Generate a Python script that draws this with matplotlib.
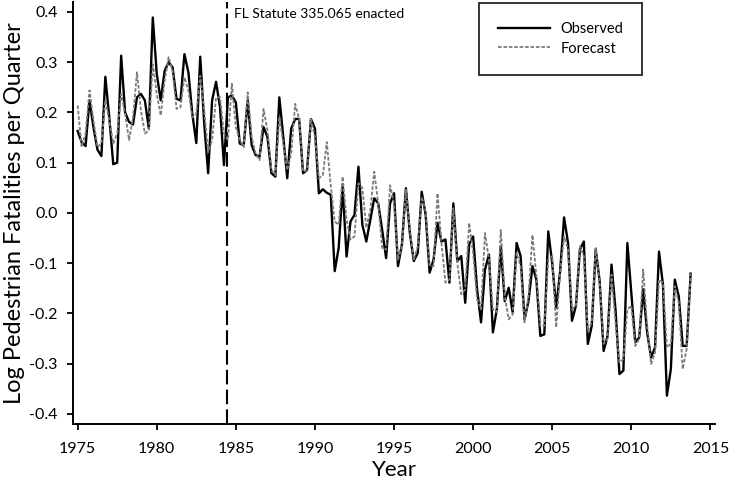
import matplotlib
matplotlib.use('Agg')
import matplotlib.pyplot as plt
import numpy as np

plt.rcParams['font.family'] = ['Lato', 'DejaVu Sans']
plt.rcParams['axes.unicode_minus'] = False

# quarterly series, 1975 Q1 .. 2013 Q4
start_year = 1975
observed = [
    0.163, 0.141, 0.133, 0.224, 0.170, 0.126, 0.113, 0.271,
    0.190, 0.097, 0.100, 0.313, 0.200, 0.181, 0.176, 0.230,
    0.237, 0.224, 0.168, 0.389, 0.277, 0.224, 0.283, 0.300,
    0.290, 0.227, 0.224, 0.316, 0.280, 0.197, 0.139, 0.311,
    0.178, 0.079, 0.224, 0.261, 0.210, 0.095, 0.230, 0.234,
    0.220, 0.138, 0.135, 0.224, 0.135, 0.115, 0.112, 0.171,
    0.151, 0.079, 0.072, 0.230, 0.151, 0.069, 0.168, 0.187,
    0.187, 0.079, 0.085, 0.187, 0.168, 0.039, 0.047, 0.040,
    0.036, -0.116, -0.070, 0.052, -0.087, -0.017, -0.004, 0.092,
    -0.024, -0.057, -0.014, 0.029, 0.019, -0.034, -0.090, 0.019,
    0.039, -0.106, -0.063, 0.049, -0.040, -0.096, -0.080, 0.042,
    -0.004, -0.119, -0.093, -0.020, -0.057, -0.053, -0.139, 0.019,
    -0.096, -0.086, -0.179, -0.063, -0.047, -0.152, -0.218, -0.113,
    -0.083, -0.238, -0.192, -0.067, -0.176, -0.149, -0.198, -0.060,
    -0.086, -0.212, -0.176, -0.106, -0.133, -0.245, -0.242, -0.037,
    -0.100, -0.189, -0.116, -0.009, -0.060, -0.215, -0.185, -0.073,
    -0.057, -0.261, -0.225, -0.073, -0.136, -0.275, -0.245, -0.103,
    -0.192, -0.321, -0.314, -0.060, -0.159, -0.258, -0.248, -0.152,
    -0.238, -0.288, -0.268, -0.077, -0.143, -0.364, -0.311, -0.133,
    -0.166, -0.265, -0.265, -0.121,
]
forecast = [
    0.214, 0.131, 0.158, 0.244, 0.184, 0.131, 0.138, 0.224,
    0.184, 0.138, 0.158, 0.237, 0.197, 0.145, 0.190, 0.280,
    0.204, 0.158, 0.164, 0.296, 0.237, 0.194, 0.263, 0.310,
    0.283, 0.207, 0.210, 0.270, 0.244, 0.190, 0.197, 0.273,
    0.204, 0.121, 0.145, 0.230, 0.230, 0.158, 0.145, 0.257,
    0.171, 0.145, 0.131, 0.240, 0.151, 0.118, 0.105, 0.207,
    0.164, 0.085, 0.075, 0.191, 0.138, 0.085, 0.118, 0.217,
    0.187, 0.082, 0.085, 0.187, 0.151, 0.069, 0.075, 0.141,
    0.055, -0.017, -0.024, 0.072, -0.014, -0.053, -0.047, 0.059,
    0.049, -0.030, 0.006, 0.082, 0.019, -0.070, -0.073, 0.055,
    0.019, -0.093, -0.067, 0.046, -0.034, -0.093, -0.067, 0.032,
    0.003, -0.106, -0.106, 0.039, -0.060, -0.139, -0.133, 0.009,
    -0.100, -0.162, -0.152, -0.020, -0.080, -0.172, -0.192, -0.040,
    -0.093, -0.192, -0.198, -0.034, -0.166, -0.212, -0.202, -0.080,
    -0.106, -0.218, -0.166, -0.044, -0.126, -0.225, -0.225, -0.093,
    -0.086, -0.228, -0.119, -0.047, -0.073, -0.192, -0.185, -0.066,
    -0.086, -0.235, -0.218, -0.070, -0.139, -0.261, -0.251, -0.123,
    -0.218, -0.298, -0.291, -0.192, -0.185, -0.265, -0.251, -0.113,
    -0.225, -0.301, -0.278, -0.133, -0.139, -0.268, -0.261, -0.146,
    -0.179, -0.311, -0.271, -0.121,
]
years = start_year + np.arange(len(observed)) / 4.0
statute_year = 1984.42
statute_label = 'FL Statute 335.065 enacted'
ytick_vals = [-0.4, -0.3, -0.2, -0.1, 0.0, 0.1, 0.2, 0.3, 0.4]
ytick_labels = ['-0.4', '-0.3', '-0.2', '-0.1', '0.0', '0.1', '0.2', '0.3', '0.4']

fig = plt.figure(figsize=(7.29, 4.86), dpi=100)
ax = fig.add_axes([0.100, 0.128, 0.881, 0.868])

ax.plot(years, observed, color='black', lw=1.7, label='Observed', zorder=3)
ax.plot(years, forecast, color='#7a7a7a', lw=1.3, dashes=(2, 1), label='Forecast', zorder=4)
ax.axvline(statute_year, color='black', lw=1.5, dashes=(7, 2.5), zorder=2)
ax.text(statute_year + 0.45, 0.395, statute_label, fontsize=10, va='center', ha='left')

ax.set_xlim(1974.7, 2015.3)
ax.set_ylim(-0.42, 0.42)
ax.set_xticks(range(1975, 2016, 5))
ax.set_yticks(ytick_vals)
ax.set_yticklabels(ytick_labels)

for s in ['top', 'right']:
    ax.spines[s].set_visible(False)
for s in ['left', 'bottom']:
    ax.spines[s].set_linewidth(1.4)
ax.tick_params(direction='out', length=4, width=1.3, labelsize=11.5)
ax.tick_params(axis='x', pad=9)
ax.tick_params(axis='y', pad=7)

ax.set_xlabel('Year', fontsize=16, labelpad=3)
ax.set_ylabel('Log Pedestrian Fatalities per Quarter', fontsize=17, labelpad=3)

leg = ax.legend(loc='upper left', bbox_to_anchor=(0.632, 0.998), fontsize=10.5,
                frameon=True, fancybox=False, edgecolor='black', borderpad=1.3,
                handlelength=3.6, handletextpad=0.7, labelspacing=0.4,
                borderaxespad=0)
leg.get_frame().set_linewidth(1.4)

fig.savefig('out.png', dpi=100)
